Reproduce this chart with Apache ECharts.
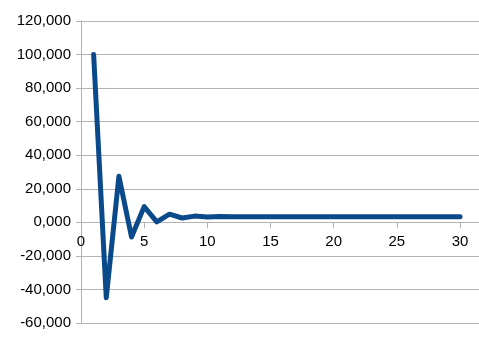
<!DOCTYPE html>
<html>
<head>
<meta charset="utf-8">
<script src="https://cdn.jsdelivr.net/npm/echarts@6/dist/echarts.min.js"></script>
<style>html,body{margin:0;padding:0;background:#fff}#c{width:479px;height:345px}</style>
</head>
<body>
<div id="c"></div>
<script>
var xValues = [1,2,3,4,5,6,7,8,9,10,11,12,13,14,15,16,17,18,19,20,21,22,23,24,25,26,27,28,29,30];
var yValues = [100000,-45000,27500,-8750,9375,313,4844,2578,3711,3145,3428,3286,3357,3322,3339,3330,3335,3333,3334,3333,3333,3333,3333,3333,3333,3333,3333,3333,3333,3333];
var yTickLabels = {'-60000':'-60,000','-40000':'-40,000','-20000':'-20,000','0':'0,000','20000':'20,000','40000':'40,000','60000':'60,000','80000':'80,000','100000':'100,000','120000':'120,000'};
var xTickLabels = ['0','5','10','15','20','25','30'];

var gridTop = 21, gridBottom = 22, H = 345;
var yMin = -60000, yMax = 120000;
var zeroFromBottom = (H - gridTop - gridBottom) * (0 - yMin) / (yMax - yMin);

function xFmt(v){var i=Math.round(v/5);return (Math.abs(v-i*5)<1e-6)?xTickLabels[i]:'';}

var chart = echarts.init(document.getElementById('c'), null, {renderer:'canvas'});
var pts = xValues.map(function(x,i){return [x, yValues[i]];});
chart.setOption({
  animation:false,
  grid:{left:81,right:0,top:gridTop,bottom:gridBottom,containLabel:false},
  xAxis:[{
    type:'value',min:0,max:31.5,interval:5,
    axisLine:{show:true,onZero:true,lineStyle:{color:'#b3b3b3',width:1}},
    axisTick:{show:true,length:6,lineStyle:{color:'#b3b3b3'}},
    splitLine:{show:false},
    axisLabel:{show:false}
  },{
    type:'value',min:0,max:31.5,interval:5,position:'bottom',offset:-zeroFromBottom,
    axisLine:{show:false,onZero:false},
    axisTick:{show:false},
    splitLine:{show:false},
    axisLabel:{margin:12,color:'#000',fontFamily:'Liberation Sans',fontSize:15,showMaxLabel:false,formatter:xFmt}
  }],
  yAxis:{
    type:'value',min:yMin,max:yMax,interval:20000,
    axisLine:{show:true,onZero:false,lineStyle:{color:'#b3b3b3',width:1}},
    axisTick:{show:true,length:5,lineStyle:{color:'#b3b3b3'}},
    splitLine:{show:true,lineStyle:{color:'#b3b3b3',width:1}},
    axisLabel:{margin:10,color:'#000',fontFamily:'Liberation Sans',fontSize:15,
      formatter:function(v){return yTickLabels[String(v)];}}
  },
  series:[{
    type:'line',data:pts,showSymbol:false,symbol:'none',xAxisIndex:0,
    lineStyle:{color:'#0a4a8a',width:5,join:'round',cap:'round'}
  }]
});
</script>
</body>
</html>
